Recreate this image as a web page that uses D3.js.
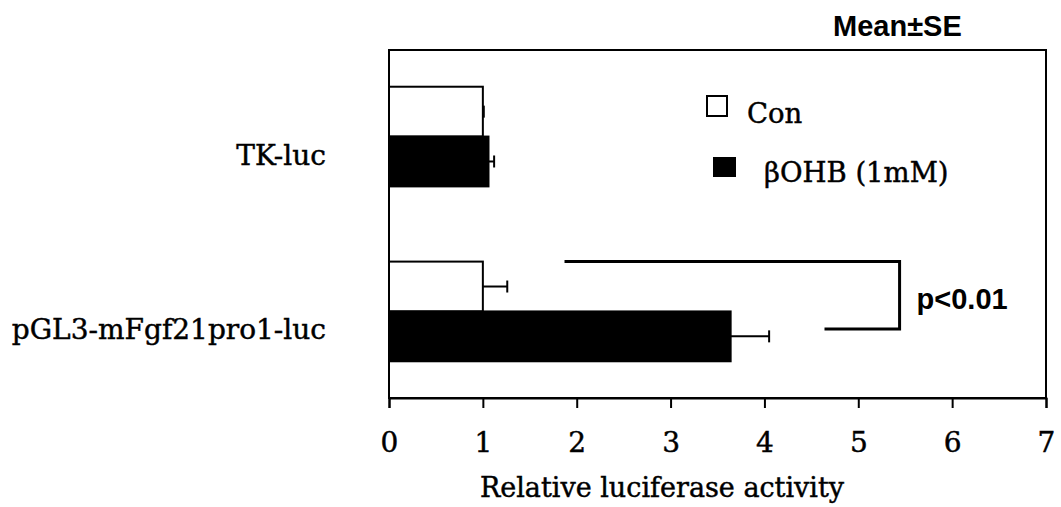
<!DOCTYPE html>
<html><head><meta charset="utf-8">
<script src="https://cdn.jsdelivr.net/npm/d3@7"></script>
<style>body{margin:0;background:#fff}</style>
</head><body>
<svg id="c" width="1061" height="507"></svg>
<script>
const categories = ["TK-luc", "pGL3-mFgf21pro1-luc"];
const series = ["Con", "βOHB (1mM)"];
const conValues = [1.0, 1.0];
const conErrors = [0.01, 0.26];
const ohbValues = [1.06, 3.64];
const ohbErrors = [0.06, 0.41];
const xTicks = [0, 1, 2, 3, 4, 5, 6, 7];
const bracket = {x1: 1.87, x2: 5.44, x3: 4.64, label: "p<0.01"};

const svg = d3.select("#c");
const L = 389, R = 1046, T = 50, B = 398;
const serif = "'DejaVu Serif', serif";
const sans = "'Liberation Sans', Arial, sans-serif";

const x = d3.scaleLinear().domain([0, 7]).range([L, R]);
const y = d3.scaleBand().domain(categories).range([T, B]).paddingInner(0.43).paddingOuter(0.21);
const ys = d3.scaleBand().domain(series).range([0, y.bandwidth()]);

const rows = categories.map((c, i) => ({
  cat: c,
  bars: [
    {s: series[0], v: conValues[i], e: conErrors[i]},
    {s: series[1], v: ohbValues[i], e: ohbErrors[i]}
  ]
}));

function serifText(sel, size) {
  return sel.attr("font-family", serif).attr("font-size", size).attr("fill", "#000")
    .attr("stroke", "#000").attr("stroke-width", 0.45);
}

// frame
svg.append("rect").attr("x", L).attr("y", T).attr("width", R - L).attr("height", B - T)
  .attr("fill", "none").attr("stroke", "#000").attr("stroke-width", 2);

// bars
const g = svg.append("g");
rows.forEach(r => {
  r.bars.forEach((b, j) => {
    const y0 = y(r.cat) + ys(b.s);
    const h = ys.bandwidth();
    const ey = y0 + h / 2;
    g.append("line").attr("x1", x(b.v)).attr("x2", x(b.v + b.e)).attr("y1", ey).attr("y2", ey)
      .attr("stroke", "#000").attr("stroke-width", 2);
    g.append("line").attr("x1", x(b.v + b.e)).attr("x2", x(b.v + b.e)).attr("y1", ey - 6).attr("y2", ey + 6)
      .attr("stroke", "#000").attr("stroke-width", 2);
    g.append("rect").attr("x", x(0)).attr("y", y0).attr("width", x(b.v) - x(0)).attr("height", h)
      .attr("fill", j === 0 ? "#fff" : "#000").attr("stroke", "#000").attr("stroke-width", 2);
  });
});

// axis
const ax = svg.append("g").attr("transform", `translate(0,${B})`)
  .call(d3.axisBottom(x).tickValues(xTicks).tickSize(10).tickPadding(24).tickFormat(d3.format("d")));
ax.select(".domain").attr("stroke-width", 2);
ax.selectAll(".tick line").attr("stroke-width", 2);
ax.selectAll(".tick text").call(serifText, 28).attr("dy", "0.72em");

serifText(svg.append("text"), 27).attr("x", 662).attr("y", 497).attr("text-anchor", "middle")
  .text("Relative luciferase activity");

// category labels
svg.selectAll(".cat").data(categories).enter().append("text")
  .call(serifText, 28)
  .attr("x", 326).attr("y", d => y(d) + y.bandwidth() / 2 + 28)
  .attr("text-anchor", "end").text(d => d);

// legend
const lg = svg.append("g");
lg.append("rect").attr("x", 707).attr("y", 96).attr("width", 20).attr("height", 20)
  .attr("fill", "#fff").attr("stroke", "#000").attr("stroke-width", 2);
serifText(lg.append("text"), 27.5).attr("x", 747).attr("y", 123).text(series[0]);
lg.append("rect").attr("x", 713).attr("y", 157).attr("width", 23).attr("height", 20).attr("fill", "#000");
serifText(lg.append("text"), 27.5).attr("x", 764).attr("y", 182).text(series[1]);

// significance bracket
const by1 = y(categories[1]) + ys(series[0]);
const by2 = y(categories[1]) + ys(series[1]) + ys.bandwidth() * 0.35;
svg.append("path")
  .attr("d", `M${x(bracket.x1)},${by1}H${x(bracket.x2)}V${by2}H${x(bracket.x3)}`)
  .attr("fill", "none").attr("stroke", "#000").attr("stroke-width", 3);
svg.append("text").attr("x", x(bracket.x2) + 17).attr("y", 309)
  .attr("font-family", sans).attr("font-weight", "bold").attr("font-size", 29).text(bracket.label);

svg.append("text").attr("x", 833).attr("y", 36)
  .attr("font-family", sans).attr("font-weight", "bold").attr("font-size", 29).text("Mean±SE");
</script>
</body></html>
